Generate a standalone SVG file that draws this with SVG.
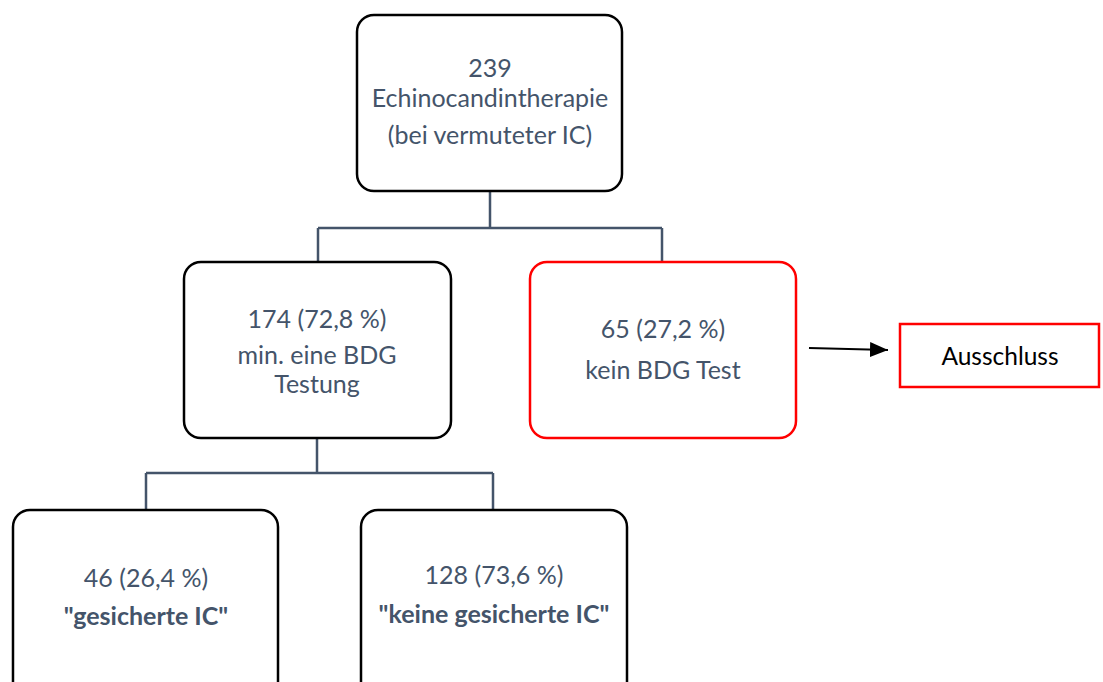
<svg xmlns="http://www.w3.org/2000/svg" width="1103" height="682" viewBox="0 0 1103 682">
<defs>
<style>
.box{fill:#fff;stroke:#000;stroke-width:2.5}
.red{fill:#fff;stroke:#ff0000;stroke-width:2.5}
.t{font-family:Lato,"Open Sans",sans-serif;font-size:25px;fill:#44546A;text-anchor:middle}
.b{font-weight:bold}
.k{fill:#000}
.con{fill:none;stroke:#44546A;stroke-width:2.5}
</style>
<marker id="ah" viewBox="0 0 10 10" refX="10" refY="5" markerWidth="18" markerHeight="15" markerUnits="userSpaceOnUse" orient="auto" preserveAspectRatio="none">
<path d="M0,0 L10,5 L0,10 z" fill="#000"/>
</marker>
</defs>
<rect width="1103" height="682" fill="#fff"/>
<g id="connectors">
<path class="con" d="M490,191 V228 M318,228 H662 M318,228 V262 M662,228 V262"/>
<path class="con" d="M317,438 V473 M146,473 H493 M146,473 V510 M493,473 V510"/>
<line x1="809" y1="348" x2="888" y2="350" stroke="#000" stroke-width="2.2" marker-end="url(#ah)"/>
</g>
<g id="n-top">
<rect class="box" x="357" y="15" width="265" height="176" rx="17"/>
<text class="t" x="490" y="77">239</text>
<text class="t" x="490" y="107">Echinocandintherapie</text>
<text class="t" x="490" y="144">(bei vermuteter IC)</text>
</g>
<g id="n-bdg">
<rect class="box" x="184" y="262" width="267" height="176" rx="17"/>
<text class="t" x="317" y="328">174 (72,8 %)</text>
<text class="t" x="317" y="364">min. eine BDG</text>
<text class="t" x="317" y="393">Testung</text>
</g>
<g id="n-nobdg">
<rect class="red" x="530" y="262" width="266" height="176" rx="17"/>
<text class="t" x="663" y="338">65 (27,2 %)</text>
<text class="t" x="663" y="379">kein BDG Test</text>
</g>
<g id="n-aus">
<rect class="red" x="900" y="324" width="199" height="63"/>
<text class="t k" x="1000" y="365" style="font-size:24.5px">Ausschluss</text>
</g>
<g id="n-ges">
<rect class="box" x="13" y="510" width="265" height="190" rx="17"/>
<text class="t" x="146" y="587">46 (26,4 %)</text>
<text class="t b" x="146" y="625">"gesicherte IC"</text>
</g>
<g id="n-keine">
<rect class="box" x="361" y="510" width="266" height="190" rx="17"/>
<text class="t" x="494" y="584">128 (73,6 %)</text>
<text class="t b" x="494" y="623">"keine gesicherte IC"</text>
</g>
</svg>
